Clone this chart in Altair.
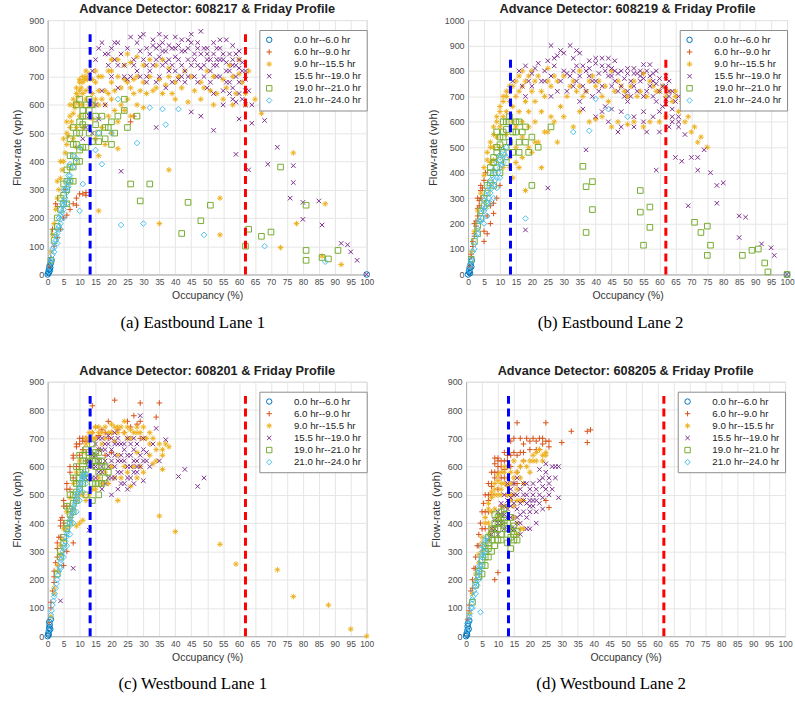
import altair as alt
import pandas as pd

# ---------------- legend / style lists ----------------
periods = ["0.0 hr--6.0 hr", "6.0 hr--9.0 hr", "9.0 hr--15.5 hr",
           "15.5 hr--19.0 hr", "19.0 hr--21.0 hr", "21.0 hr--24.0 hr"]
period_colors = ["#0072BD", "#D95319", "#EDB120", "#7E2F8E", "#77AC30", "#4DBEEE"]
period_shapes = ["circle",
                 "M-1,0L1,0M0,-1L0,1",
                 "M-1,0L1,0M0,-1L0,1M-0.7,-0.7L0.7,0.7M-0.7,0.7L0.7,-0.7",
                 "M-0.8,-0.8L0.8,0.8M-0.8,0.8L0.8,-0.8",
                 "square",
                 "diamond"]
x_ticks = list(range(0, 101, 5))
critical_occ = [13.3]      # blue dashed line (%)
jam_occ = [62.0]           # red dashed line (%)
line_top = [850]           # top of the dashed lines (vph)

# ---------------- (a) detector 608217 ----------------
a_0_6 = [(0,0),(0.2,5),(0.3,12),(0.5,20),(0.6,30),(0.8,25),(1.0,40),(0.4,8),(1.2,50),(0.7,15),(100,0)]
a_6_9 = [(0.5,30),(1,60),(1.5,160),(2,100),(2.5,250),(3,130),(3,240),(4,160),(5,200),(5.5,300),(6,210),
         (7,230),(8,250),(9,245),(9,270),(10,285),(11,285),(12,290),(12,280),(26,540),(27,560)]
a_9_15 = [(1,80),(1.5,140),(2,180),(2.5,230),(3,270),(3.5,300),(4,340),(4.5,370),(5,400),(5.5,430),(6,460),
          (6.5,490),(7,520),(7.5,540),(8,570),(8.5,590),(9,610),(9.5,630),(10,650),(10.5,660),(11,680),
          (11.5,690),(12,700),(12.5,690),(13,710),(8,480),(9,520),(10,560),(11,600),(12,620),(9,450),(11,520),
          (13,600),(14,640),(15,680),(16,700),(14,550),(16,600),(18,650),(17,700),(19,720),(20,680),(22,700),
          (24,690),(26,660),(28,700),(30,680),(25,620),(27,640),(23,600),(21,580),(19,560),(17,520),(15,480),
          (16,420),(18,460),(20,500),(22,540),(24,580),(32,700),(35,690),(38,700),(40,680),(42,660),(45,700),
          (48,680),(50,720),(52,700),(55,690),(58,700),(60,710),(60,760),(57,740),(33,650),(36,640),(40,620),
          (44,610),(48,620),(52,600),(55,620),(58,600),(62,640),(65,620),(62,600),(30,590),(28,600),(26,560),
          (38,370),(35,180),(54,270),(54,140),(67,570),(77,430),(87,250),(78,180),(73,95),(86,65),(92,35),
          (16,225),(22,445),(20,760),(25,780),(30,740)]
a_9_15_core = [(7,600),(8,620),(9,660),(10,680),(11,700),(12,720),(6,540),(7,560),(8,600),(9,640),(10,690),
               (5,480),(6,500),(4,400),(3,330),(13,660),(14,690),(15,720),(12,650),(11,640),(10,600),(13,560),
               (14,600),(15,620),(16,650),(17,620),(18,600),(19,640),(20,620),(21,650),(23,660),(25,680),
               (27,690),(29,650),(31,640),(34,660),(37,670),(39,640),(41,700),(43,720),(46,650),(49,660),
               (51,650),(53,640),(56,660),(59,640),(61,680),(63,720),(20,720),(22,760),(24,740),(26,750),
               (28,770),(32,760),(34,740),(36,760),(38,730)]
a_15_19 = [(14,720),(15,760),(16,800),(17,820),(18,780),(19,740),(20,800),(21,760),(22,820),(23,780),(24,740),
           (25,800),(26,840),(27,760),(28,820),(29,790),(30,850),(31,800),(26,700),(20,700),(17,650),(15,600),
           (13,560),(12,520),(11,480),(14,500),(16,550),(18,600),(22,660),(25,690),(28,720),(31,740),(32,780),
           (33,810),(34,760),(35,850),(36,820),(37,790),(38,760),(39,800),(40,770),(41,810),(42,740),(43,790),
           (44,760),(45,820),(46,780),(47,740),(48,860),(49,800),(50,760),(51,720),(52,780),(53,740),(54,800),
           (55,760),(56,720),(57,780),(58,740),(59,700),(60,760),(61,720),(62,690),(63,650),(60,640),(58,620),
           (55,650),(52,640),(50,660),(47,680),(44,700),(41,690),(38,720),(35,700),(56,830),(45,850),(40,840),
           (50,800),(54,700),(57,680),(61,620),(64,600),(62,600),(36,740),(42,700),(48,730),(53,760),(59,780),
           (23,365),(34,520),(48,560),(45,575),(52,510),(59,425),(63,370),(64,535),(68,545),(72,450),(69,390),
           (77,385),(77,325),(76,270),(80,255),(80,195),(85,260),(86,175),(92,110),(94,105),(95,80),(97,50),
           (100,0),(60,550)]
a_15_19_core = [(30,760),(31,700),(32,720),(33,740),(34,800),(35,770),(36,790),(37,750),(38,810),(39,740),
                (40,720),(41,760),(42,790),(43,720),(44,800),(45,740),(46,760),(47,800),(48,780),(49,740),
                (50,780),(51,760),(52,740),(53,800),(54,760),(55,780),(56,750),(57,720),(58,760),(59,740),
                (60,730),(61,750),(62,720),(46,700),(49,700),(51,680),(53,700),(56,680),(58,660),(60,680),
                (62,650),(55,600),(57,640),(59,610),(43,680),(39,680),(37,660),(34,680),(31,680),(29,700),
                (27,740),(24,700),(22,740),(19,780),(21,820),(35,810),(40,800),(44,830),(47,820),(52,820),
                (54,830),(58,810),(60,790),(33,830),(29,840),(37,840),(42,830)]
a_19_21 = [(1,50),(2,120),(3,170),(4,230),(5,280),(6,330),(7,380),(8,420),(9,460),(10,500),(11,530),(12,560),
           (13,580),(6,250),(8,330),(10,400),(12,450),(14,470),(16,500),(18,480),(20,460),(9,600),(10,620),
           (11,580),(7,480),(8,520),(15,530),(17,560),(19,520),(21,500),(22,560),(25,520),(28,560),(24,580),
           (26,320),(32,320),(29,260),(44,255),(42,145),(48,190),(51,245),(63,160),(67,135),(70,150),(73,380),
           (81,245),(81,85),(81,50),(88,55),(91,85),(86,60),(62,100),(24,620)]
a_19_21_core = [(4,270),(5,320),(6,370),(7,420),(8,460),(9,500),(10,540),(11,560),(12,600),(13,620),(7,330),
                (9,400),(11,450),(13,500),(15,560),(16,470),(18,520),(20,540),(14,600),(12,520),(10,440),
                (8,380),(6,300),(5,250),(3,200),(2,150)]
a_21_24 = [(0.3,10),(0.6,25),(1,45),(1.5,70),(2,95),(2.5,120),(3,145),(3.5,170),(4,195),(4.5,220),(5,245),
           (5.5,270),(6,290),(6.5,310),(7,330),(3,110),(4,160),(5,200),(6,250),(4,230),(5,300),(6,330),(7,390),
           (10,450),(10,225),(17,390),(23,175),(30,180),(28,465),(36,585),(37,530),(32,590),(41,585),(49,140),
           (68,100),(87,45),(22,620),(11,320),(15,440),(20,500),(16,500)]
a_21_24_core = [(1,55),(2,110),(3,160),(4,210),(5,260),(6,310),(7,350),(8,380),(9,410),(2,80),(3,130),(4,180),
                (5,230),(1.5,90),(2.5,140),(3.5,200),(4.5,250),(5.5,300),(6.5,350),(8,420)]

# ---------------- (b) detector 608219 ----------------
b_0_6 = [(0,0),(0.3,10),(0.5,25),(0.8,40),(1,30),(0.4,15),(1.2,55),(0.6,5),(100,0)]
b_6_9 = [(0.5,30),(1,70),(1.5,110),(2,150),(2.5,190),(3,230),(3.5,270),(4,300),(4.5,340),(5,370),(5.5,400),
         (3,300),(4,350),(2,200),(5,130),(5,170),(6,160),(7,200),(8,240),(8,280),(7,270),(6,230),(9,300),(10,350),
         (1,80),(2,160),(3,260),(4,330),(1.5,130),(2.5,210),(3.5,290)]
b_9_15 = [(1,90),(2,170),(3,250),(4,320),(5,390),(6,450),(7,500),(8,550),(9,600),(10,640),(11,680),(12,700),
          (13,720),(14,740),(15,760),(16,780),(17,800),(8,450),(10,500),(12,550),(14,600),(16,640),(18,680),
          (20,720),(11,420),(13,460),(15,500),(17,540),(19,580),(21,600),(23,640),(14,380),(16,420),(18,330),
          (23,420),(20,480),(22,520),(25,560),(27,600),(24,700),(26,740),(28,760),(30,780),(32,740),(34,720),
          (36,700),(38,760),(40,740),(42,700),(44,680),(46,720),(48,740),(50,700),(52,760),(54,720),(56,700),
          (58,740),(60,720),(62,700),(64,680),(66,640),(68,600),(70,560),(72,520),(75,500),(30,620),(35,640),
          (40,610),(45,580),(50,590),(55,580),(60,600),(28,520),(33,580),(38,600),(20,800),(25,810),(35,800),
          (45,800),(55,790),(65,720)]
b_9_15_core = [(5,420),(6,480),(7,520),(8,580),(9,620),(10,660),(11,700),(12,720),(13,740),(7,440),(8,500),
               (9,540),(10,580),(11,620),(12,640),(13,680),(14,660),(15,700),(16,720),(17,740),(18,760),(19,780),
               (21,760),(22,780),(15,580),(17,600),(19,640),(21,680),(23,720),(25,760),(27,780),(13,420),(15,440),
               (17,460),(19,500),(21,520),(24,560),(26,620),(29,660),(31,700),(33,760),(35,740),(37,720),(39,780),
               (41,760),(43,740),(47,760),(49,720),(51,740),(53,700),(57,760),(59,720),(61,740),(63,720),(65,700),
               (67,680),(69,620),(71,580),(73,540),(42,620),(47,600),(52,600),(57,600),(62,620)]
b_15_19 = [(14,760),(16,800),(18,820),(20,790),(22,830),(24,800),(26,900),(27,850),(28,860),(30,870),(32,900),
           (33,850),(35,870),(36,820),(38,840),(40,830),(42,850),(44,820),(46,840),(48,800),(50,790),(52,810),
           (54,780),(56,800),(58,760),(60,770),(62,740),(64,720),(66,700),(30,800),(32,780),(34,760),(36,740),
           (38,780),(40,760),(42,740),(44,780),(46,760),(48,740),(50,720),(52,740),(54,760),(56,720),(58,700),
           (60,720),(62,690),(64,650),(66,620),(63,580),(60,560),(56,560),(52,580),(48,580),(44,600),(40,620),
           (36,650),(28,720),(24,760),(20,740),(18,700),(26,700),(45,650),(50,680),(55,640),(58,620),(61,660),
           (47,560),(42,640),(66,600),(68,550),(67,445),(65,460),(70,460),(72,460),(74,490),(76,400),(78,350),
           (78,280),(80,360),(69,270),(72,410),(85,230),(85,145),(87,225),(92,120),(95,105),(96,75),(100,0),
           (25,340),(18,175),(37,490),(59,410),(64,600),(62,670),(63,760),(59,800),(55,825),(57,825),(52,790),
           (45,810)]
b_15_19_core = [(31,790),(33,800),(35,780),(37,800),(39,760),(41,790),(43,800),(45,780),(47,790),(49,770),
                (51,760),(53,790),(55,770),(57,780),(59,750),(61,740),(63,720),(65,680),(34,820),(38,810),
                (42,820),(46,800),(50,810),(54,800),(58,790),(62,780),(47,720),(51,700),(55,700),(59,680),
                (63,700),(57,740),(53,720),(49,700),(45,740),(41,720),(37,720),(33,740),(29,760),(26,780),
                (23,760),(21,810),(19,760),(17,740),(60,640),(64,620),(66,580),(55,600),(52,620),(48,640),
                (43,660),(39,700),(35,680),(31,720),(27,820),(25,840),(29,880),(34,880),(40,850),(44,850)]
b_19_21 = [(1,60),(2,130),(3,190),(4,250),(5,300),(6,350),(7,400),(8,440),(9,480),(10,510),(11,540),(12,570),
           (13,600),(6,280),(8,350),(10,400),(12,440),(14,480),(16,520),(9,560),(11,600),(15,560),(18,580),
           (20,540),(22,500),(26,580),(20,350),(36,425),(37,345),(39,365),(39,255),(37,165),(54,330),(54,245),
           (57,265),(57,185),(55,115),(71,205),(73,165),(75,190),(76,115),(75,75),(86,75),(89,95),(91,100),
           (93,45),(94,10),(100,0)]
b_19_21_core = [(7,420),(8,460),(9,500),(10,540),(11,560),(12,600),(13,620),(14,560),(15,600),(16,600),(17,560),
                (10,450),(11,480),(12,500),(13,520),(9,420),(8,400),(7,360),(6,320),(5,270),(4,220),(3,160),
                (16,480),(18,520),(19,480)]
b_21_24 = [(0.3,15),(0.6,35),(1,60),(1.5,90),(2,120),(2.5,150),(3,180),(3.5,210),(4,240),(4.5,260),(5,290),
           (5.5,310),(6,330),(6.5,350),(7,370),(7.5,390),(8,410),(9,440),(10,470),(11,490),(12,500),(5,200),
           (6,230),(7,280),(8,300),(9,340),(10,380),(10,460),(18,220),(38,565),(50,620),(44,650),(40,690),(33,560)]
b_21_24_core = [(1,50),(2,100),(3,160),(4,210),(5,250),(6,280),(7,320),(8,350),(9,380),(10,420),(11,440),
                (12,460),(4.5,220),(5.5,260),(6.5,300),(7.5,340),(8.5,370),(9.5,400),(10.5,430),(11.5,470)]

# ---------------- (c) detector 608201 ----------------
c_0_6 = [(0,0),(0.2,10),(0.4,20),(0.5,30),(0.3,5),(0.6,40),(0.8,25),(0.5,50),(1,60)]
c_6_9 = [(0.5,50),(1,100),(1.5,160),(2,210),(2.5,260),(3,310),(3.5,350),(4,390),(4.5,420),(5,460),(6,520),
         (7,580),(8,630),(9,670),(10,700),(11,700),(12,690),(13,700),(14,720),(15,740),(17,730),(19,760),
         (21,835),(14,815),(29,825),(35,825),(34,775),(28,750),(29,700),(26,740),(8,330),(5,250),(6,300),
         (10,600),(12,620),(16,660),(18,640),(20,650),(9,550)]
c_6_9_core = [(1,120),(2,230),(3,330),(4,410),(5,480),(6,540),(7,600),(8,640),(9,680),(10,680),(11,690),
              (12,700),(13,690),(15,700),(16,710),(18,720),(19,700),(20,720),(22,730),(24,720),(7,520),(8,560),
              (9,600),(10,640),(11,660),(12,650),(6,460),(5,400),(4,350),(3,280),(2,190),(25,760),(27,780),(29,760)]
c_9_15 = [(1,70),(2,170),(3,250),(4,320),(5,380),(6,440),(7,490),(8,540),(9,580),(10,620),(11,650),(12,680),
          (13,700),(14,720),(15,740),(16,720),(18,700),(20,720),(22,740),(24,760),(26,730),(28,720),(30,700),
          (32,680),(34,660),(36,640),(38,670),(37,680),(36,590),(33,610),(30,580),(28,560),(26,530),(24,600),
          (22,640),(20,600),(18,580),(16,560),(14,520),(12,480),(10,400),(9,390),(11,410),(22,480),(35,425),
          (40,370),(54,325),(59,255),(72,235),(77,140),(88,110),(95,25),(100,0),(17,680),(21,690),(25,700),(28,650)]
c_9_15_core = [(12,700),(13,720),(14,700),(15,700),(16,740),(17,720),(18,740),(19,720),(20,750),(21,740),
               (22,720),(23,740),(24,720),(25,740),(26,700),(27,720),(28,740),(29,720),(30,740),(31,700),
               (32,720),(33,700),(35,680),(36,660),(34,620),(32,640),(29,600),(27,600),(25,580),(23,560),
               (21,560),(19,540),(17,540),(15,520),(13,500),(11,500),(10,500),(9,480),(8,450),(7,420),(6,380),
               (5,340),(4,290),(3,230),(2,150)]
c_15_19 = [(12,560),(13,600),(14,640),(15,680),(16,700),(17,660),(18,620),(19,680),(20,700),(21,640),(22,680),
           (23,620),(24,660),(25,600),(26,640),(27,620),(28,600),(29,640),(30,660),(31,620),(32,600),(14,560),
           (16,580),(18,540),(20,560),(22,580),(24,540),(26,560),(28,580),(30,550),(20,500),(17,520),(15,600),
           (19,600),(21,600),(23,680),(25,700),(27,700),(29,780),(34,735),(37,695),(33,680),(41,565),(43,590),
           (47,530),(49,560),(8,240),(4,125),(13,375),(30,700),(31,650),(35,620)]
c_15_19_core = [(13,620),(14,600),(15,640),(16,660),(17,700),(18,680),(19,640),(20,660),(21,680),(22,620),
                (23,640),(24,620),(25,640),(26,600),(27,660),(28,620),(29,600),(30,620),(15,560),(17,580),
                (19,560),(21,560),(23,580),(25,560),(27,580),(16,620),(18,660),(20,620),(22,700),(24,680),
                (26,680),(28,680),(21,720),(19,710),(17,600),(23,540),(25,520),(22,520),(27,540)]
c_19_21 = [(3,220),(4,280),(5,330),(6,380),(7,430),(8,470),(9,510),(10,540),(11,570),(12,590),(13,610),(14,620),
           (15,600),(16,580),(17,540),(16,500),(14,480),(12,500),(10,580),(11,620),(9,600),(8,560),(13,650),
           (15,650),(17,620),(18,560),(7,500),(6,460)]
c_19_21_core = [(4,300),(5,350),(6,400),(7,450),(8,500),(9,540),(10,560),(11,590),(12,620),(13,630),(14,640),
                (15,620),(16,620),(17,600),(18,600),(19,580),(12,560),(13,560),(14,540),(15,540),(16,540),
                (10,520),(9,480),(8,440),(7,400),(11,540),(14,680),(12,660),(10,640),(16,650)]
c_21_24 = [(0.3,20),(0.6,45),(1,75),(1.5,110),(2,140),(2.5,170),(3,200),(3.5,230),(4,260),(4.5,285),(5,310),
           (5.5,335),(6,360),(6.5,385),(7,410),(7.5,430),(8,450),(8.5,470),(9,490),(9.5,510),(10,530),(10.5,550),
           (11,570),(6,320),(7,360),(8,400),(9,440),(10,480),(11,510),(12,540),(5,280),(4,240)]
c_21_24_core = [(0.8,60),(1.2,90),(1.8,125),(2.2,150),(2.8,185),(3.2,215),(3.8,245),(4.2,270),(4.8,300),
                (5.2,320),(5.8,350),(6.2,370),(6.8,400),(7.2,420),(7.8,440),(8.2,460),(8.8,480),(9.2,500),
                (9.8,520),(10.2,540),(10.8,560),(11.2,560),(11.5,580),(12,570)]

# ---------------- (d) detector 608205 ----------------
d_0_6 = [(0,0),(0.2,10),(0.4,20),(0.5,35),(0.3,5),(0.6,45),(0.8,25),(1,55)]
d_6_9 = [(0.5,60),(1,110),(1.5,160),(2,200),(2.5,240),(3,280),(3.5,320),(4,360),(4.5,400),(5,440),(5.5,470),
         (6,500),(7,540),(8,580),(9,610),(10,630),(11,600),(12,620),(13,640),(14,690),(15,700),(16,755),(17,700),
         (18,650),(20,660),(22,690),(23,700),(24,680),(25,755),(26,670),(30,685),(33,725),(38,725),(39,730),
         (38,685),(25,480),(26,455),(9,200),(10,225),(10,620),(9,630),(8,500),(10,520),(12,560),(14,600),(6,380),
         (7,440),(16,540),(11,460),(13,500)]
d_6_9_core = [(5,380),(6,440),(7,480),(8,530),(9,560),(10,580),(11,560),(12,590),(13,600),(14,640),(15,650),
              (16,640),(17,650),(18,680),(19,700),(20,690),(21,700),(22,660),(23,660),(24,700),(25,690),(26,690),
              (11,620),(12,650),(13,620),(7,500),(8,540),(9,580),(10,600),(4,320),(3,240),(2,170),(1,90),
              (14,500),(15,540),(16,580),(17,600),(18,620)]
d_9_15 = [(1,80),(2,150),(3,220),(4,290),(5,350),(6,400),(7,450),(8,490),(9,520),(10,550),(11,540),(12,580),
          (13,560),(14,540),(15,500),(16,520),(17,560),(18,540),(20,580),(22,620),(24,640),(25,650),(6,320),(8,380),
          (10,420),(12,460),(14,480),(16,400),(17,380),(9,450),(11,500),(13,530),(7,360),(5,300),(15,620),(18,480),
          (21,620)]
d_9_15_core = [(6,420),(7,470),(8,510),(9,540),(10,570),(11,580),(12,600),(13,600),(14,580),(15,560),(16,580),
               (17,600),(18,620),(19,600),(20,620),(21,640),(22,650),(23,660),(24,620),(25,640),(11,520),(12,540),
               (13,500),(14,500),(15,460),(16,480),(17,480),(9,500),(10,500),(8,440),(7,400),(5,330),(4,260),
               (3,200),(13,460),(15,420),(18,380),(16,360)]
d_15_19 = [(7,340),(8,380),(9,410),(10,440),(11,470),(12,500),(13,480),(14,460),(15,500),(16,450),(17,430),
           (18,480),(19,500),(20,520),(21,460),(22,440),(23,500),(24,530),(25,580),(26,560),(27,600),(28,600),
           (29,600),(29,490),(24,450),(21,500),(19,420),(17,400),(15,380),(13,420),(11,400),(10,360),(12,430),
           (14,520),(16,560),(18,540),(20,480),(23,550),(22,400),(20,380)]
d_15_19_core = [(8,360),(9,380),(10,400),(11,430),(12,460),(13,450),(14,490),(15,470),(16,500),(17,470),
                (18,500),(19,470),(20,460),(21,480),(22,480),(23,470),(24,490),(25,520),(26,500),(27,520),
                (14,420),(16,420),(18,440),(20,440),(12,380),(14,380),(16,400),(22,520),(24,560),(26,540),
                (28,560),(13,540),(15,540),(17,520),(19,540),(21,540),(23,590),(25,610),(17,360),(19,380)]
d_19_21 = [(2,120),(3,180),(4,230),(5,270),(6,300),(7,330),(8,360),(9,380),(10,400),(11,420),(12,410),(13,380),
           (14,350),(15,360),(16,370),(10,340),(8,300),(6,250),(7,280),(9,320),(11,360),(13,330),(12,450),(9,430),
           (5,220),(14,310)]
d_19_21_core = [(4,210),(5,250),(6,280),(7,310),(8,340),(9,360),(10,380),(11,400),(12,390),(13,400),(14,380),
                (15,340),(10,420),(11,440),(12,430),(9,400),(8,380),(7,350),(6,320),(13,360),(15,390),(16,340),
                (14,420),(11,340)]
d_21_24 = [(0.3,20),(0.6,45),(1,70),(1.5,100),(2,130),(2.5,160),(3,190),(3.5,215),(4,240),(4.5,265),(5,290),
           (5.5,315),(6,340),(3,150),(4,200),(5,250),(2,100),(4.5,85),(6,300),(5,320)]
d_21_24_core = [(0.8,55),(1.2,80),(1.8,115),(2.2,140),(2.8,175),(3.2,200),(3.8,225),(4.2,250),(4.8,280),
                (5.2,300),(5.8,330),(6.3,350),(3.5,180),(4.5,230),(5.5,280)]

FONT = "Liberation Sans"
W, H = 321, 256


def panel(detector, series, ymax, caption):
    rows = []
    for lab, pts in zip(periods, series):
        for (x, y) in pts:
            rows.append({"occ": x, "flow": y, "period": lab, "k": len(rows)})
    df = pd.DataFrame(rows)
    xs = alt.Scale(domain=[0, 100], nice=False)
    ys = alt.Scale(domain=[0, ymax], nice=False)
    xaxis = alt.Axis(values=x_ticks, title="Occupancy (%)", labelFontSize=8.5, labelPadding=3,
                     titleFontSize=10.5, titlePadding=5, labelFlush=False, labelOverlap=False, format="d")
    yaxis = alt.Axis(values=list(range(0, ymax + 1, 100)), title="Flow-rate (vph)", labelFontSize=9,
                     labelPadding=4, titleFontSize=11.5, titlePadding=6, labelFlush=False,
                     labelOverlap=False, format="d")
    leg = alt.Legend(title=None, orient="none", legendX=213, legendY=10, fillColor="white",
                     strokeColor="#8c8c8c", padding=5, labelFontSize=9.8, labelFont=FONT, labelColor="#222",
                     symbolSize=30, symbolStrokeWidth=1, labelOffset=20, rowPadding=1.2, cornerRadius=0)
    pts = alt.Chart(df).mark_point(filled=False, size=32, strokeWidth=1, opacity=1).encode(
        x=alt.X("occ:Q", scale=xs, axis=xaxis),
        y=alt.Y("flow:Q", scale=ys, axis=yaxis),
        color=alt.Color("period:N", scale=alt.Scale(domain=periods, range=period_colors), legend=leg),
        shape=alt.Shape("period:N", scale=alt.Scale(domain=periods, range=period_shapes), legend=leg),
        order=alt.Order("k:Q"),
    )
    blue_df = pd.DataFrame({"occ": critical_occ, "y0": [0], "y1": line_top})
    red_df = pd.DataFrame({"occ": jam_occ, "y0": [0], "y1": line_top})
    blue = alt.Chart(blue_df).mark_rule(color="#0000FF", strokeWidth=3, strokeDash=[8, 5]).encode(
        x=alt.X("occ:Q", scale=xs, axis=xaxis), y=alt.Y("y0:Q", scale=ys, axis=yaxis), y2="y1:Q")
    red = alt.Chart(red_df).mark_rule(color="#FF0000", strokeWidth=3, strokeDash=[8, 5]).encode(
        x=alt.X("occ:Q", scale=xs, axis=xaxis), y=alt.Y("y0:Q", scale=ys, axis=yaxis), y2="y1:Q")
    lay = alt.layer(pts, blue, red).properties(
        width=W, height=H,
        title=alt.TitleParams(f"Advance Detector: {detector} & Friday Profile", fontSize=12.8,
                              fontWeight="bold", font=FONT, color="#222", offset=0))
    return alt.vconcat(lay, title=alt.TitleParams(caption, orient="bottom", font="Liberation Serif",
                                                  fontSize=17, fontWeight="normal", color="black",
                                                  offset=13, anchor="middle")
                       ).resolve_scale(color="independent", shape="independent")


pa = panel("608217", [a_0_6, a_6_9, a_9_15 + a_9_15_core, a_15_19 + a_15_19_core,
                      a_19_21 + a_19_21_core, a_21_24 + a_21_24_core], 900, "(a)  Eastbound Lane 1")
pb = panel("608219", [b_0_6, b_6_9, b_9_15 + b_9_15_core, b_15_19 + b_15_19_core,
                      b_19_21 + b_19_21_core, b_21_24 + b_21_24_core], 1000, "(b)  Eastbound Lane 2")
pc = panel("608201", [c_0_6, c_6_9 + c_6_9_core, c_9_15 + c_9_15_core, c_15_19 + c_15_19_core,
                      c_19_21 + c_19_21_core, c_21_24 + c_21_24_core], 900, "(c)  Westbound Lane 1")
pd_ = panel("608205", [d_0_6, d_6_9 + d_6_9_core, d_9_15 + d_9_15_core, d_15_19 + d_15_19_core,
                       d_19_21 + d_19_21_core, d_21_24 + d_21_24_core], 900, "(d)  Westbound Lane 2")

row1 = alt.hconcat(pa, pb, spacing=52).resolve_scale(color="independent", shape="independent")
row2 = alt.hconcat(pc, pd_, spacing=55).resolve_scale(color="independent", shape="independent")

chart = alt.vconcat(row1, row2, spacing=33).resolve_scale(
    color="independent", shape="independent"
).properties(padding={"left": 11, "top": 0, "right": 0, "bottom": 0}).configure(
    font=FONT, background="white"
).configure_axis(
    labelFont=FONT, titleFont=FONT, labelColor="#4d4d4d", titleColor="#333", titleFontWeight="normal",
    gridColor="#e6e6e6", gridWidth=1, domainColor="#b3b3b3", ticks=False
).configure_view(stroke="#c4c4c4", strokeWidth=1)

chart.save("out.html", embed_options={"renderer": "svg", "actions": False})
